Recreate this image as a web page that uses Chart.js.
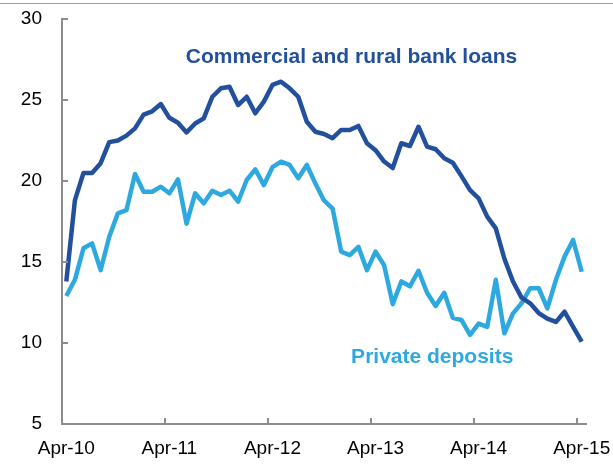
<!DOCTYPE html>
<html>
<head>
<meta charset="utf-8">
<script src="https://cdn.jsdelivr.net/npm/chart.js@4"></script>
<style>
  html, body { margin: 0; padding: 0; background: #fff; }
  #wrap { position: relative; width: 613px; height: 464px; }
  .rule { position: absolute; left: 0; top: 3px; width: 613px; height: 1px; background: #9a9ac4; }
</style>
</head>
<body>
<div id="wrap">
  <div class="rule"></div>
  <canvas id="chart" width="613" height="464"></canvas>
</div>
<script>
// DATA
const months = [
  'Apr-10','May-10','Jun-10','Jul-10','Aug-10','Sep-10','Oct-10','Nov-10','Dec-10','Jan-11','Feb-11','Mar-11',
  'Apr-11','May-11','Jun-11','Jul-11','Aug-11','Sep-11','Oct-11','Nov-11','Dec-11','Jan-12','Feb-12','Mar-12',
  'Apr-12','May-12','Jun-12','Jul-12','Aug-12','Sep-12','Oct-12','Nov-12','Dec-12','Jan-13','Feb-13','Mar-13',
  'Apr-13','May-13','Jun-13','Jul-13','Aug-13','Sep-13','Oct-13','Nov-13','Dec-13','Jan-14','Feb-14','Mar-14',
  'Apr-14','May-14','Jun-14','Jul-14','Aug-14','Sep-14','Oct-14','Nov-14','Dec-14','Jan-15','Feb-15','Mar-15',
  'Apr-15'
];

const bankLoans = [
  13.8, 18.8, 20.5, 20.5, 21.1, 22.4, 22.5, 22.8, 23.25, 24.1, 24.3, 24.75,
  23.9, 23.6, 23.0, 23.55, 23.87, 25.2, 25.72, 25.82, 24.69, 25.2, 24.18, 24.9,
  25.93, 26.13, 25.72, 25.2, 23.66, 23.04, 22.9, 22.64, 23.15, 23.15, 23.4, 22.33,
  21.9, 21.2, 20.8, 22.33, 22.16, 23.35, 22.12, 21.96, 21.4, 21.13, 20.3, 19.44,
  18.93, 17.8, 17.08, 15.2, 13.8, 12.8, 12.45, 11.85, 11.5, 11.3, 11.93, 11.0,
  10.08
];

const privateDeposits = [
  12.9, 13.9, 15.85, 16.15, 14.5, 16.56, 18.0, 18.2, 20.43, 19.34, 19.34, 19.65,
  19.24, 20.1, 17.37, 19.24, 18.62, 19.4, 19.14, 19.4, 18.72, 20.06, 20.72, 19.75,
  20.85, 21.19, 20.99, 20.17, 20.99, 19.85, 18.8, 18.3, 15.64, 15.43, 15.94, 14.5,
  15.64, 14.8, 12.4, 13.8, 13.5, 14.46, 13.1, 12.28, 13.1, 11.55, 11.42, 10.5,
  11.2, 11.0, 13.9, 10.6, 11.83, 12.45, 13.38, 13.38, 12.14, 13.9, 15.33, 16.36,
  14.4
];

const yTicks = [5, 10, 15, 20, 25, 30];
const labelEvery = 12;

// STYLE
const DARK = '#22509c';
const LIGHT = '#2ea9e0';
const AXIS = '#8c8c8c';
const FONT = "'Liberation Sans', Arial, sans-serif";

// in-chart series names, anchored on the chart's own scales
const seriesNames = [
  { text: 'Commercial and rural bank loans', at: 33.2, value: 27.65, color: DARK },
  { text: 'Private deposits', at: 42.6, value: 9.14, color: LIGHT }
];

// inward tick marks on both axes
const innerTicks = {
  id: 'innerTicks',
  afterDraw(chart) {
    const { ctx, chartArea, scales } = chart;
    const x = scales.x, y = scales.y;
    const half = (x.getPixelForValue(1) - x.getPixelForValue(0)) / 2;
    ctx.save();
    ctx.strokeStyle = AXIS;
    ctx.lineWidth = 2;
    ctx.beginPath();
    yTicks.forEach(v => {
      const py = Math.round(y.getPixelForValue(v));
      ctx.moveTo(chartArea.left, py);
      ctx.lineTo(chartArea.left + 6, py);
    });
    for (let i = labelEvery; i < months.length; i += labelEvery) {
      const px = Math.round(x.getPixelForValue(i) - half);
      ctx.moveTo(px, chartArea.bottom);
      ctx.lineTo(px, chartArea.bottom - 6);
    }
    ctx.stroke();
    ctx.restore();
  }
};

const nameLabels = {
  id: 'nameLabels',
  afterDraw(chart) {
    const { ctx, scales } = chart;
    ctx.save();
    ctx.font = `bold 21px ${FONT}`;
    ctx.textAlign = 'center';
    ctx.textBaseline = 'middle';
    seriesNames.forEach(s => {
      ctx.fillStyle = s.color;
      ctx.fillText(s.text, scales.x.getPixelForValue(s.at), scales.y.getPixelForValue(s.value));
    });
    ctx.restore();
  }
};

new Chart(document.getElementById('chart').getContext('2d'), {
  type: 'line',
  data: {
    labels: months,
    datasets: [
      { data: bankLoans, borderColor: DARK, borderWidth: 4.5, pointRadius: 0, tension: 0, borderJoinStyle: 'round' },
      { data: privateDeposits, borderColor: LIGHT, borderWidth: 4.5, pointRadius: 0, tension: 0, borderJoinStyle: 'round' }
    ]
  },
  options: {
    responsive: false,
    animation: false,
    devicePixelRatio: 1,
    layout: { padding: { top: 19, right: 27, left: 0, bottom: 0 } },
    plugins: { legend: { display: false }, tooltip: { enabled: false } },
    scales: {
      x: {
        type: 'category',
        offset: true,
        grid: { display: false, drawTicks: false },
        border: { color: AXIS, width: 2 },
        ticks: {
          autoSkip: false, maxRotation: 0, padding: 13, color: '#000',
          font: { family: FONT, size: 19 },
          callback: (v, i) => i % labelEvery === 0 ? months[i] : ''
        },
        afterFit: s => { s.height = 40; s.paddingLeft = 0; s.paddingRight = 0; }
      },
      y: {
        min: 5, max: 30,
        grid: { display: false, drawTicks: false },
        border: { color: AXIS, width: 2 },
        ticks: { stepSize: 5, padding: 20, color: '#000', font: { family: FONT, size: 19 } },
        afterFit: s => { s.width = 62; s.paddingTop = 0; s.paddingBottom = 0; }
      }
    }
  },
  plugins: [innerTicks, nameLabels]
});
</script>
</body>
</html>
